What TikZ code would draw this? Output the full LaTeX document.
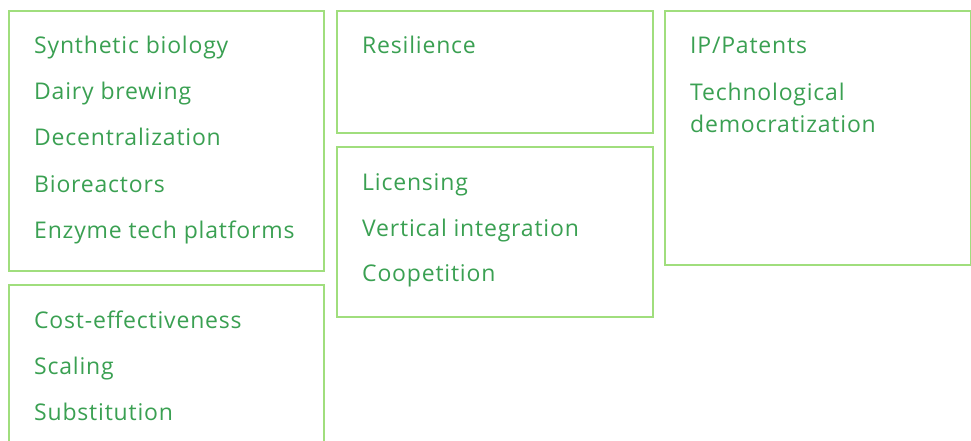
\documentclass[tikz,border=0pt]{standalone}
\usepackage{fontspec}
\setmainfont[LetterSpace=3.5]{Open Sans}
\usepackage{xcolor}
\definecolor{boxline}{RGB}{160,222,125}
\definecolor{itemgreen}{RGB}{58,160,82}

\begin{document}
\begin{tikzpicture}[x=1pt,y=-1pt,
		    panel/.style={draw=boxline,line width=1.3pt},
		    item/.style={anchor=base west,inner sep=0pt,text=itemgreen,font=\fontsize{23}{26}\selectfont}]
			\useasboundingbox (0,0) rectangle (971,441);
			% Panels
			  \draw[panel] (9,11) rectangle (324,271);
			  \draw[panel] (9,285) rectangle (324,450);
			  \draw[panel] (337,11) rectangle (653,133);
			  \draw[panel] (337,147) rectangle (653,317);
			  \draw[panel] (665,11) rectangle (971,265);

			% Items
			  \node[item] (synbio) at (34,54) {Synthetic biology};
			  \node[item] (dairy) at (34,100) {Dairy brewing};
			  \node[item] (decentr) at (34,146) {Decentralization};
			  \node[item] (bioreact) at (34,192) {Bioreactors};
			  \node[item] (enzyme) at (34,238) {Enzyme tech platforms};

			  \node[item] (cost) at (34,328) {Cost-effectiveness};
			  \node[item] (scaling) at (34,374) {Scaling};
			  \node[item] (subst) at (34,420) {Substitution};

			  \node[item] (resil) at (362,54) {Resilience};

			  \node[item] (licens) at (362,190) {Licensing};
			  \node[item] (vertint) at (362,236) {Vertical integration};
			  \node[item] (coop) at (362,281) {Coopetition};

			  \node[item] (ip) at (690,54) {IP/Patents};
			  \node[item] (techdem) at (690,101) {Technological};
			  \node[item] (techdem2) at (690,132) {democratization};
			\end{tikzpicture}
\end{document}
